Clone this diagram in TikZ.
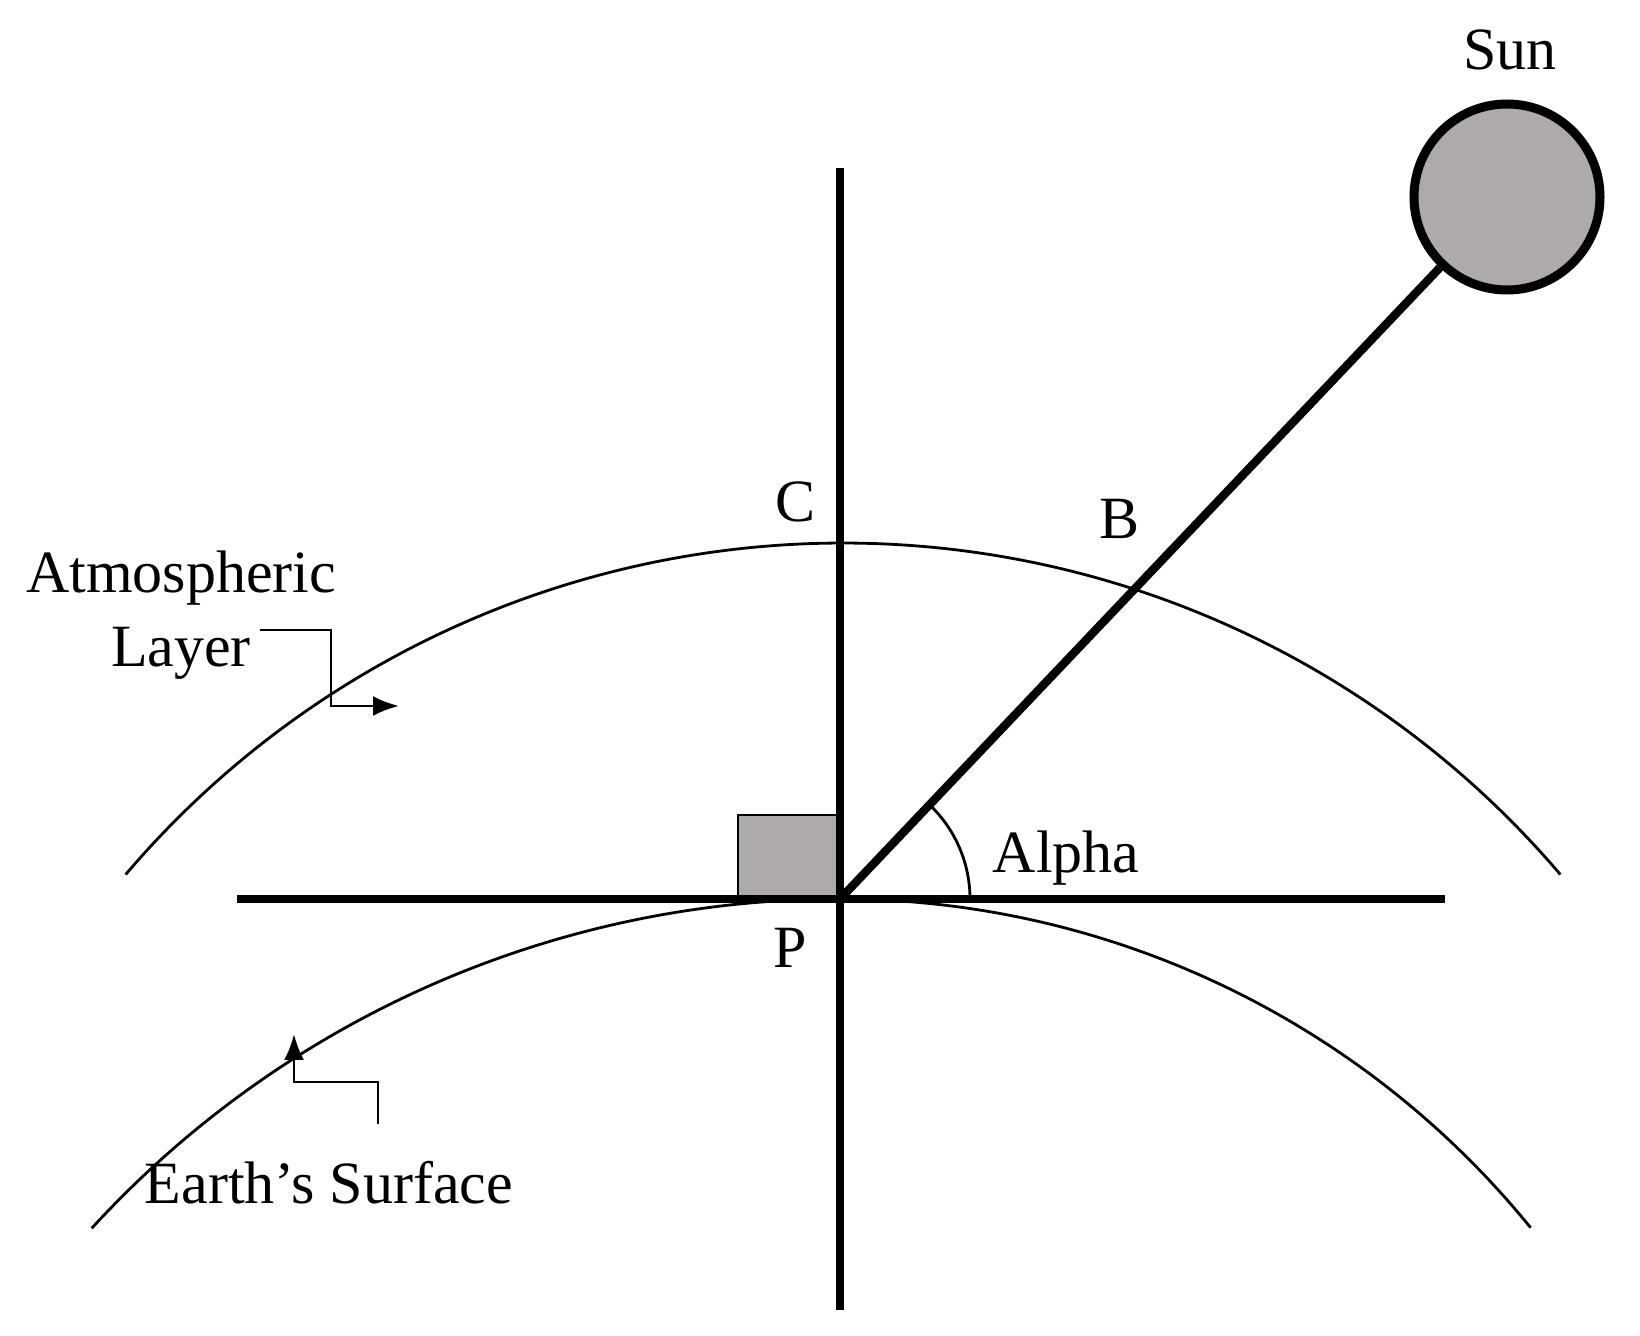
\documentclass[tikz,border=0pt]{standalone}
\usepackage{fontspec}
\usetikzlibrary{arrows.meta}
\setmainfont{Liberation Serif}
\begin{document}
\begin{tikzpicture}[x=0.5pt,y=0.5pt,
  thick line/.style={line width=4.2pt},
  thin line/.style={line width=1.4pt},
  lbl/.style={font=\fontsize{30}{34}\selectfont, inner sep=0pt},
  >={Latex[length=13pt,width=10pt]}]
\useasboundingbox (0,0) rectangle (1640,1335);
% gray box
\draw[thin line, fill={rgb,255:red,174;green,170;blue,169}] (738,436) rectangle (837,520);
% atmosphere arc
\draw[thin line] (843,-150) ++(139.6:942) arc[start angle=139.6,end angle=40.4,radius=942];
% earth arc
\draw[thin line] (840,-579) ++(137.5:1015) arc[start angle=137.5,end angle=90,radius=1015]
  arc[start angle=90,end angle=39.1,radius=890];
% axes
\coordinate (P) at (840,436);
\coordinate (top) at (840,1167);
\coordinate (bot) at (840,25);
\coordinate (left) at (237,436);
\coordinate (right) at (1445,436);
\draw[thick line] (top) -- (bot);
\draw[thick line] (left) -- (right);
% sun
\node[circle, draw, line width=4.5pt, fill={rgb,255:red,174;green,170;blue,169}, minimum size=93pt, inner sep=0pt] (sun) at (1507,1138) {};
\draw[thick line] (P) -- (sun);
% alpha arc
\draw[thin line] (P) ++(0:130) arc[start angle=0,end angle=46.5,radius=130];
% labels
\node[lbl] (sunl) at (1510,1285) {Sun};
\node[lbl] (C) at (796,833) {C};
\node[lbl] (B) at (1120,816) {B};
\node[lbl] (atm) at (181,757) {Atmospheric};
\node[lbl] (lay) at (181,682) {Layer};
\node[lbl] (alpha) at (1066,477) {Alpha};
\node[lbl] (Pl) at (790,387) {P};
\node[lbl] (es) at (329,152) {Earth’s Surface};
% pointer arrows
\coordinate (a1) at (260,705);
\coordinate (a2) at (331,705);
\coordinate (a3) at (331,629);
\coordinate (a4) at (399,629);
\draw[thin line,->] (a1) -- (a2) -- (a3) -- (a4);
\coordinate (e1) at (378,211);
\coordinate (e2) at (378,253);
\coordinate (e3) at (294,253);
\coordinate (e4) at (294,301);
\draw[thin line,->] (e1) -- (e2) -- (e3) -- (e4);
\end{tikzpicture}
\end{document}
